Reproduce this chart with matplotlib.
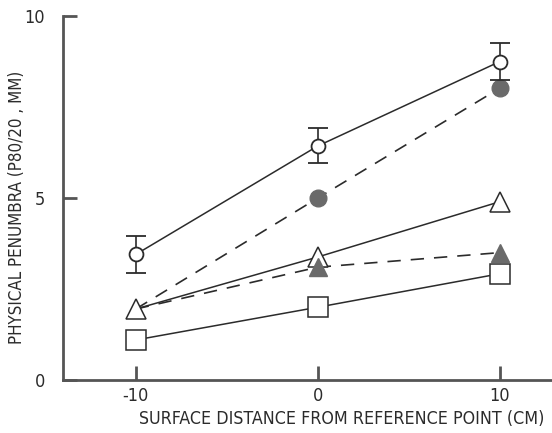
import matplotlib
matplotlib.use('Agg')
from matplotlib import pyplot as plt

# surface distance from reference point (cm)
distance = [-10, 0, 10]

# physical penumbra P80/20 (mm)
open_circle = [3.45, 6.43, 8.75]
open_circle_err = [0.52, 0.48, 0.5]
filled_circle = [1.95, 5.0, 8.02]
open_triangle = [1.95, 3.38, 4.9]
filled_triangle = [1.95, 3.1, 3.5]
open_square = [1.1, 2.0, 2.92]

ink = '#2b2b2b'
grey = '#6a6a6a'
plt.rcParams['font.family'] = ['DejaVu Sans']
plt.rcParams['font.stretch'] = 'condensed'

fig = plt.figure(figsize=(5.52, 4.33), dpi=100)
ax = fig.add_axes([0.114, 0.1224, 0.886, 0.8406])

# dashed series first so open markers sit on top
ax.plot(distance, filled_circle, '--', color=ink, lw=1.2, dashes=(8, 6), zorder=2)
ax.plot(distance[1:], filled_circle[1:], 'o', ms=12, mfc=grey, mec=grey, zorder=4)
ax.plot(distance, filled_triangle, '--', color=ink, lw=1.2, dashes=(8, 6), zorder=2)
ax.plot(distance[1:], filled_triangle[1:], '^', ms=13, mfc=grey, mec=grey, zorder=4)

ax.plot(distance, open_triangle, '-', color=ink, lw=1.1, marker='^', ms=14,
        mfc='white', mec=ink, mew=1.1, zorder=3)
ax.plot(distance, open_square, '-', color=ink, lw=1.1, marker='s', ms=14,
        mfc='white', mec=ink, mew=1.1, zorder=3)
ax.errorbar(distance, open_circle, yerr=open_circle_err, fmt='-', color=ink, lw=1.1,
            marker='o', ms=10, mfc='white', mec=ink, mew=1.3, capsize=7,
            elinewidth=1.2, capthick=1.2, zorder=5)

ax.set_xlim(-14, 12.86)
ax.set_ylim(0, 10)
ax.set_xticks([-10, 0, 10])
ax.set_xticklabels(['-10', '0', '10'])
ax.set_yticks([0, 5, 10])
ax.set_yticklabels(['0', '5', '10'])

for s in ['top', 'right']:
    ax.spines[s].set_visible(False)
for s in ['left', 'bottom']:
    ax.spines[s].set_color('#555555')
    ax.spines[s].set_linewidth(2)

ax.tick_params(axis='both', direction='in', length=10, width=2, color='#555555',
               labelsize=13, labelcolor=ink)
ax.tick_params(axis='x', pad=5)
ax.tick_params(axis='y', pad=13)

ax.set_xlabel('SURFACE DISTANCE FROM REFERENCE POINT (CM)', fontsize=12.8, color=ink)
ax.set_ylabel('PHYSICAL PENUMBRA (P80/20 , MM)', fontsize=12.2, color=ink)
ax.xaxis.set_label_coords(0.57, -0.082)
ax.yaxis.set_label_coords(-0.076, 0.475)

fig.savefig('out.png', dpi=100)
